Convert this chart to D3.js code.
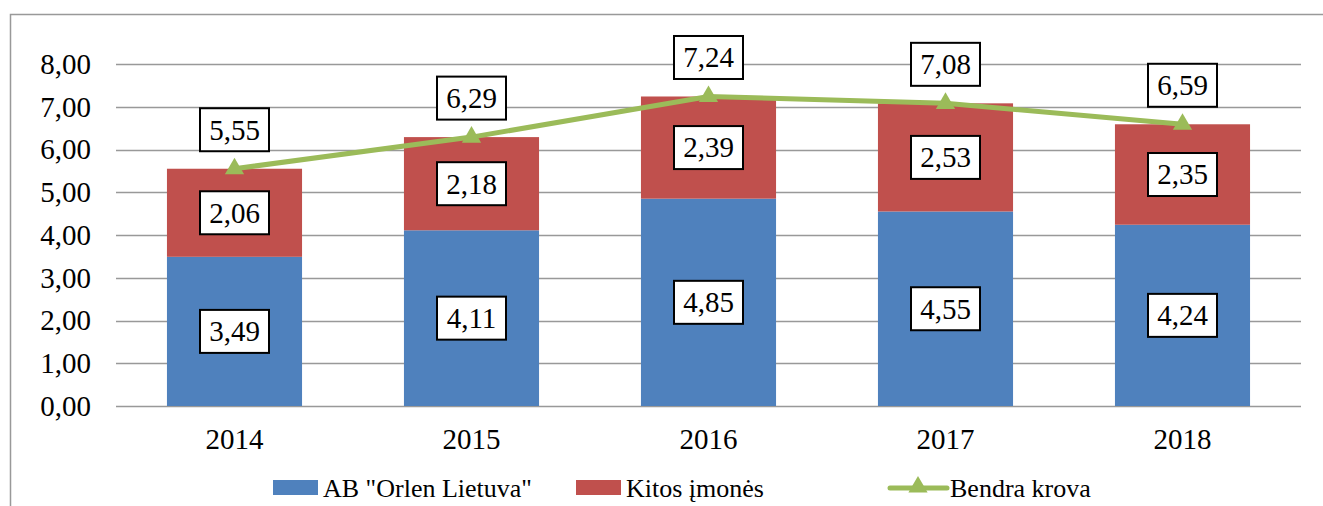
<!DOCTYPE html>
<html>
<head>
<meta charset="utf-8">
<script src="https://cdn.jsdelivr.net/npm/d3@7"></script>
<style>
  body { margin: 0; background: #fff; }
</style>
</head>
<body>
<svg width="1323" height="506"></svg>
<script>
const years = ["2014", "2015", "2016", "2017", "2018"];
const orlen = [3.49, 4.11, 4.85, 4.55, 4.24];
const kitos = [2.06, 2.18, 2.39, 2.53, 2.35];
const bendra = [5.55, 6.29, 7.24, 7.08, 6.59];
const yTicks = [0, 1, 2, 3, 4, 5, 6, 7, 8];
const seriesNames = ['AB "Orlen Lietuva"', "Kitos įmonės", "Bendra krova"];

const colors = { orlen: "#4F81BD", kitos: "#C0504D", line: "#9BBB59" };
const fmt = v => v.toFixed(2).replace(".", ",");
const FONT = "Liberation Serif, Times New Roman, serif";

const svg = d3.select("svg");
const margin = { top: 64, left: 116, right: 22, bottom: 100 };
const width = 1323 - margin.left - margin.right;
const height = 506 - margin.top - margin.bottom;

// outer chart border (left and top visible)
svg.append("path")
  .attr("d", "M10.5,506 V14.5 H1323")
  .attr("fill", "none")
  .attr("stroke", "#999")
  .attr("stroke-width", 1.5);

const g = svg.append("g")
  .attr("transform", `translate(${margin.left},${margin.top})`);

const x = d3.scaleBand().domain(years).range([0, width]).paddingInner(0.43).paddingOuter(0.215);
const y = d3.scaleLinear().domain([0, 8]).range([height, 0]);

// gridlines
g.selectAll("line.grid")
  .data(yTicks)
  .join("line")
  .attr("class", "grid")
  .attr("x1", 0).attr("x2", width)
  .attr("y1", d => Math.round(y(d)) + 0.5).attr("y2", d => Math.round(y(d)) + 0.5)
  .attr("stroke", "#999").attr("stroke-width", 1.5);

// y tick labels
g.selectAll("text.ytick")
  .data(yTicks)
  .join("text")
  .attr("class", "ytick")
  .attr("x", -25)
  .attr("y", d => y(d))
  .attr("dy", "0.34em")
  .attr("text-anchor", "end")
  .attr("font-family", FONT)
  .attr("font-size", 29)
  .text(d => fmt(d));

// x tick labels
g.selectAll("text.xtick")
  .data(years)
  .join("text")
  .attr("class", "xtick")
  .attr("x", d => x(d) + x.bandwidth() / 2)
  .attr("y", height + 43)
  .attr("text-anchor", "middle")
  .attr("font-family", FONT)
  .attr("font-size", 29)
  .text(d => d);

// stacked bars
const rows = years.map((yr, i) => ({ yr, orlen: orlen[i], kitos: kitos[i], total: bendra[i] }));

g.selectAll("rect.orlen")
  .data(rows)
  .join("rect")
  .attr("class", "orlen")
  .attr("x", d => x(d.yr))
  .attr("width", x.bandwidth())
  .attr("y", d => y(d.orlen))
  .attr("height", d => y(0) - y(d.orlen))
  .attr("fill", colors.orlen);

g.selectAll("rect.kitos")
  .data(rows)
  .join("rect")
  .attr("class", "kitos")
  .attr("x", d => x(d.yr))
  .attr("width", x.bandwidth())
  .attr("y", d => y(d.orlen + d.kitos))
  .attr("height", d => y(d.orlen) - y(d.orlen + d.kitos))
  .attr("fill", colors.kitos);

// total line
const cx = d => x(d.yr) + x.bandwidth() / 2;
g.append("path")
  .datum(rows)
  .attr("fill", "none")
  .attr("stroke", colors.line)
  .attr("stroke-width", 5)
  .attr("d", d3.line().x(cx).y(d => y(d.total)));

const tri = d3.symbol().type(d3.symbolTriangle).size(160);
g.selectAll("path.marker")
  .data(rows)
  .join("path")
  .attr("class", "marker")
  .attr("transform", d => `translate(${cx(d)},${y(d.total)})`)
  .attr("d", tri)
  .attr("fill", colors.line);

// boxed data labels
function boxLabel(px, py, txt) {
  const w = 69, h = 43;
  g.append("rect")
    .attr("x", px - w / 2).attr("y", py - h / 2)
    .attr("width", w).attr("height", h)
    .attr("fill", "#fff").attr("stroke", "#000").attr("stroke-width", 2);
  g.append("text")
    .attr("x", px).attr("y", py)
    .attr("dy", "0.34em")
    .attr("text-anchor", "middle")
    .attr("font-family", FONT)
    .attr("font-size", 29)
    .text(txt);
}

rows.forEach(d => {
  boxLabel(cx(d), y(d.orlen / 2), fmt(d.orlen));
  boxLabel(cx(d), y(d.orlen + d.kitos / 2), fmt(d.kitos));
  boxLabel(cx(d), y(d.total) - 39, fmt(d.total));
});

// legend
const legend = svg.append("g").attr("transform", "translate(0,488)");
const legendItems = [
  { name: seriesNames[0], type: "rect", color: colors.orlen, x: 273 },
  { name: seriesNames[1], type: "rect", color: colors.kitos, x: 576 },
  { name: seriesNames[2], type: "line", color: colors.line, x: 890 }
];
legendItems.forEach(it => {
  if (it.type === "rect") {
    legend.append("rect")
      .attr("x", it.x).attr("y", -8)
      .attr("width", 45).attr("height", 15)
      .attr("fill", it.color);
  } else {
    legend.append("line")
      .attr("x1", it.x).attr("x2", it.x + 57)
      .attr("y1", 0).attr("y2", 0)
      .attr("stroke", it.color).attr("stroke-width", 5)
      .attr("stroke-linecap", "round");
    legend.append("path")
      .attr("transform", `translate(${it.x + 28},-1)`)
      .attr("d", tri)
      .attr("fill", it.color);
  }
  legend.append("text")
    .attr("x", it.x + (it.type === "rect" ? 50 : 60))
    .attr("y", 0)
    .attr("dy", "0.33em")
    .attr("font-family", FONT)
    .attr("font-size", 26)
    .text(it.name);
});
</script>
</body>
</html>
